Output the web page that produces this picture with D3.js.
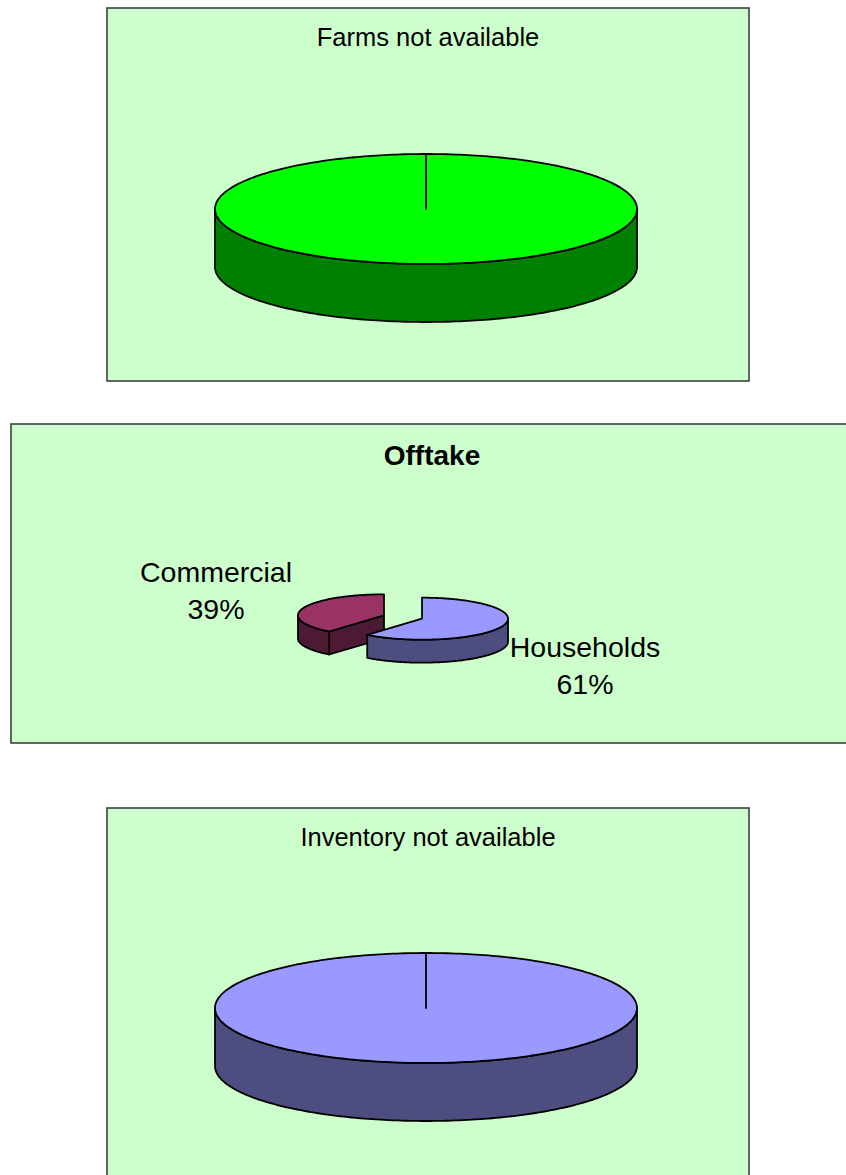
<!DOCTYPE html>
<html>
<head>
<meta charset="utf-8">
<script src="https://cdn.jsdelivr.net/npm/d3@7"></script>
<style>
  html, body { margin: 0; padding: 0; background: #fff; }
  svg { display: block; }
</style>
</head>
<body>
<svg id="chart" width="846" height="1175"></svg>
<script>
// chart data
const farmsTitle = "Farms not available";
const farmsCategories = ["Farms"];
const farmsValues = [1];

const offtakeTitle = "Offtake";
const offtakeCategories = ["Households", "Commercial"];
const offtakeValues = [61, 39];

const inventoryTitle = "Inventory not available";
const inventoryCategories = ["Inventory"];
const inventoryValues = [1];

var svg = d3.select("#chart");
var font = "'Liberation Sans', Arial, sans-serif";

var panels = [
  {
    title: farmsTitle, bold: false, titleSize: 25.5,
    box: {x: 107, y: 8, w: 642, h: 373}, titleY: 46,
    cx: 426, cy: 209, rx: 211, ry: 55, depth: 58, explode: 0,
    categories: farmsCategories, values: farmsValues,
    top: ["#00ff00"], side: ["#008000"], labels: false
  },
  {
    title: offtakeTitle, bold: true, titleSize: 28,
    box: {x: 11, y: 424, w: 900, h: 319}, titleY: 465, titleX: 432,
    cx: 403, cy: 617, rx: 86, ry: 21, depth: 23, explode: 0.235,
    categories: offtakeCategories, values: offtakeValues,
    top: ["#9999ff", "#993366"], side: ["#4d4d80", "#4d1a33"], labels: true,
    labelPos: [{x: 585, y: 657}, {x: 216, y: 582}], labelSize: 28.5, lineGap: 37
  },
  {
    title: inventoryTitle, bold: false, titleSize: 25.5,
    box: {x: 107, y: 808, w: 642, h: 373}, titleY: 846,
    cx: 426, cy: 1008, rx: 211, ry: 55, depth: 58, explode: 0,
    categories: inventoryCategories, values: inventoryValues,
    top: ["#9999ff"], side: ["#4d4d80"], labels: false
  }
];

panels.forEach(function(p) {
  var g = svg.append("g");

  g.append("rect")
    .attr("x", p.box.x).attr("y", p.box.y)
    .attr("width", p.box.w).attr("height", p.box.h)
    .attr("fill", "#ccffcc")
    .attr("stroke", "#333")
    .attr("stroke-width", 1.5);

  g.append("text")
    .attr("x", p.titleX || (p.box.x + p.box.w / 2))
    .attr("y", p.titleY)
    .attr("text-anchor", "middle")
    .style("font-family", font)
    .style("font-size", p.titleSize + "px")
    .style("font-weight", p.bold ? "bold" : "normal")
    .text(p.title);

  var topColor = d3.scaleOrdinal().domain(p.categories).range(p.top);
  var sideColor = d3.scaleOrdinal().domain(p.categories).range(p.side);

  var pie = d3.pie().sort(null).value(function(d) { return d.value; });
  var data = p.categories.map(function(c, i) { return {name: c, value: p.values[i]}; });
  var arcs = pie(data);

  arcs.forEach(function(a) {
    var mid = (a.startAngle + a.endAngle) / 2;
    var full = (a.endAngle - a.startAngle) >= 2 * Math.PI - 1e-6;
    a.mid = mid;
    a.ox = full ? 0 : p.explode * p.rx * Math.sin(mid);
    a.oy = full ? 0 : -p.explode * p.ry * Math.cos(mid);
    a.full = full;
  });

  // back slices first
  arcs.sort(function(a, b) {
    return (-Math.cos(a.mid) * p.ry + a.oy) - (-Math.cos(b.mid) * p.ry + b.oy);
  });

  function pt(a, ang, dz) {
    return [p.cx + a.ox + p.rx * Math.sin(ang), p.cy + a.oy - p.ry * Math.cos(ang) + dz];
  }
  function arcPoints(a, s, e, dz) {
    var n = Math.max(2, Math.ceil((e - s) / 0.02));
    var out = [];
    for (var i = 0; i <= n; i++) out.push(pt(a, s + (e - s) * i / n, dz));
    return out;
  }
  var line = d3.line();

  arcs.forEach(function(a) {
    var sg = g.append("g");
    var c = [p.cx + a.ox, p.cy + a.oy];

    // radial cut faces
    if (!a.full) {
      [[a.startAngle, Math.sin(a.startAngle) < -1e-6], [a.endAngle, Math.sin(a.endAngle) > 1e-6]]
        .forEach(function(f) {
          if (!f[1]) return;
          var e0 = pt(a, f[0], 0);
          var poly = [c, e0, [e0[0], e0[1] + p.depth], [c[0], c[1] + p.depth]];
          sg.append("path")
            .attr("d", line(poly) + "Z")
            .attr("fill", sideColor(a.data.name))
            .attr("stroke", "#000")
            .attr("stroke-width", 1.8)
            .attr("stroke-linejoin", "round");
        });
    }

    // outer side wall (front half only)
    var s = Math.max(a.startAngle, Math.PI / 2);
    var e = Math.min(a.endAngle, 3 * Math.PI / 2);
    if (e > s) {
      var topPts = arcPoints(a, s, e, 0);
      var botPts = arcPoints(a, s, e, p.depth).reverse();
      sg.append("path")
        .attr("d", line(topPts.concat(botPts)) + "Z")
        .attr("fill", sideColor(a.data.name))
        .attr("stroke", "#000")
        .attr("stroke-width", 1.8)
        .attr("stroke-linejoin", "round");
    }

    // top face
    var facePts = [c].concat(arcPoints(a, a.startAngle, a.endAngle, 0));
    sg.append("path")
      .attr("d", line(facePts) + "Z")
      .attr("fill", topColor(a.data.name))
      .attr("stroke", "#000")
      .attr("stroke-width", 1.8)
      .attr("stroke-linejoin", "round");
  });

  if (p.labels) {
    var total = d3.sum(p.values);
    p.categories.forEach(function(cat, i) {
      var lp = p.labelPos[i];
      var t = g.append("text")
        .attr("text-anchor", "middle")
        .style("font-family", font)
        .style("font-size", p.labelSize + "px");
      t.append("tspan").attr("x", lp.x).attr("y", lp.y).text(cat);
      t.append("tspan").attr("x", lp.x).attr("y", lp.y + p.lineGap)
        .text(Math.round(p.values[i] / total * 100) + "%");
    });
  }
});
</script>
</body>
</html>
